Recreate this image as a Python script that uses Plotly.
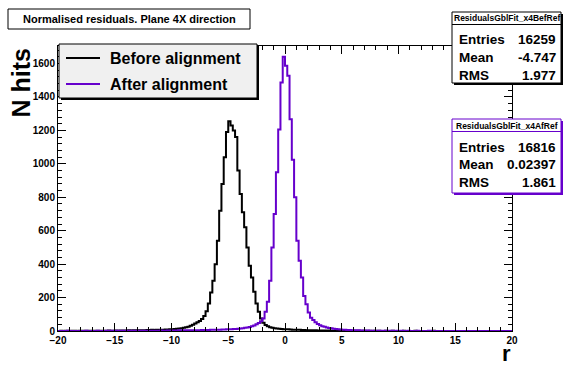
import plotly.graph_objects as go

# ---------------- data ----------------
x_min, x_max, n_bins = -20.0, 20.0, 200
y_max = 1705

before_counts = [
    0, 1, 0, 1, 1, 0, 1, 1, 0, 1,            # -20 .. -18
    1, 1, 2, 1, 1, 2, 1, 2, 2, 1,            # -18 .. -16
    2, 2, 3, 2, 2, 3, 2, 3, 3, 3,            # -16 .. -14
    3, 4, 3, 4, 4, 5, 4, 5, 5, 6,            # -14 .. -12
    6, 7, 6, 7, 8, 7, 8, 9, 9, 10,           # -12 .. -10
    11, 12, 13, 15, 17, 19, 22, 26, 31, 38,  # -10 .. -8
    45, 52, 60, 72, 90, 118, 165, 230, 300, 400,          # -8 .. -6
    540, 720, 880, 1040, 1190, 1255, 1230, 1200, 1160, 960,  # -6 .. -4
    820, 710, 620, 500, 390, 320, 235, 165, 115, 75,      # -4 .. -2
    50, 36, 28, 23, 20, 17, 15, 13, 12, 11,  # -2 .. 0
    10, 10, 9, 8, 8, 7, 7, 6, 6, 5,          # 0 .. 2
    5, 4, 4, 4, 3, 3, 3, 3, 2, 3,            # 2 .. 4
    2, 2, 2, 2, 1, 2, 1, 1, 2, 1,            # 4 .. 6
    1, 1, 1, 0, 1, 1, 0, 1, 0, 1,            # 6 .. 8
    0, 1, 0, 0, 1, 0, 0, 1, 0, 0,            # 8 .. 10
    0, 0, 1, 0, 0, 0, 0, 1, 0, 0,            # 10 .. 12
    0, 0, 0, 0, 0, 1, 0, 0, 0, 0,            # 12 .. 14
    0, 0, 0, 0, 0, 0, 0, 0, 0, 0,            # 14 .. 16
    0, 0, 0, 0, 0, 0, 0, 0, 0, 0,            # 16 .. 18
    0, 0, 0, 0, 0, 0, 0, 0, 0, 0,            # 18 .. 20
]

after_counts = [
    0, 0, 0, 0, 1, 0, 0, 0, 0, 0,            # -20 .. -18
    0, 0, 1, 0, 0, 0, 0, 1, 0, 0,            # -18 .. -16
    0, 1, 0, 1, 0, 1, 1, 0, 1, 1,            # -16 .. -14
    1, 1, 1, 1, 2, 1, 1, 2, 1, 2,            # -14 .. -12
    2, 1, 2, 2, 2, 3, 2, 2, 3, 3,            # -12 .. -10
    3, 3, 3, 4, 3, 4, 4, 4, 5, 4,            # -10 .. -8
    5, 5, 5, 6, 5, 6, 6, 7, 7, 8,            # -8 .. -6
    8, 8, 9, 9, 10, 10, 11, 12, 12, 14,      # -6 .. -4
    15, 17, 19, 21, 24, 28, 33, 40, 48, 58,  # -4 .. -2
    75, 115, 175, 300, 500, 700, 950, 1206, 1487, 1640,   # -2 .. 0
    1587, 1527, 1267, 1025, 800, 540, 420, 320, 210, 160, # 0 .. 2
    110, 80, 66, 52, 42, 35, 29, 25, 21, 18,  # 2 .. 4
    16, 14, 12, 11, 9, 8, 7, 6, 6, 5,        # 4 .. 6
    5, 4, 4, 3, 3, 3, 3, 2, 2, 2,            # 6 .. 8
    2, 2, 1, 2, 1, 1, 1, 1, 0, 1,            # 8 .. 10
    0, 1, 0, 0, 1, 0, 0, 0, 1, 0,            # 10 .. 12
    0, 0, 0, 1, 0, 0, 0, 0, 0, 0,            # 12 .. 14
    0, 0, 0, 0, 0, 0, 0, 0, 0, 0,            # 14 .. 16
    0, 0, 0, 0, 0, 0, 0, 0, 0, 0,            # 16 .. 18
    0, 0, 0, 0, 0, 0, 0, 0, 0, 0,            # 18 .. 20
]

series_names = ["Before alignment", "After alignment"]
hist_names = ["ResidualsGblFit_x4BefRef", "ResidualsGblFit_x4AfRef"]
stat_labels = ["Entries", "Mean", "RMS"]
before_stats = ["16259", "-4.747", "1.977"]
after_stats = ["16816", "0.02397", "1.861"]
title_text = "Normalised residuals. Plane 4X direction"
x_title = "r"
y_title = "N hits"

# ---------------- styling ----------------
W, H = 565, 366
L, R, T, B = 58, 512, 46, 331   # plot frame in pixels
FONT = "Liberation Sans"
BLACK = "#000000"
PURPLE = "#6600cc"

def px(xp):
    return (xp - L) / (R - L)

def py(yp):
    return (B - yp) / (B - T)

bw = (x_max - x_min) / n_bins
edges = [x_min + i * bw for i in range(n_bins + 1)]

fig = go.Figure()
for counts, col, nm in [(before_counts, BLACK, series_names[0]),
                        (after_counts, PURPLE, series_names[1])]:
    fig.add_trace(go.Scatter(
        x=edges, y=list(counts) + [counts[-1]],
        mode="lines", line=dict(color=col, width=2, shape="hv"),
        name=nm, showlegend=False, hoverinfo="skip"))

axis_common = dict(
    showline=True, linecolor=BLACK, linewidth=1, mirror="allticks",
    ticks="inside", ticklen=8, tickcolor=BLACK, tickwidth=1,
    showgrid=False, zeroline=False,
    tickprefix="<b>", ticksuffix="</b>",
    tickfont=dict(family=FONT, size=10, color=BLACK),
)

fig.update_layout(
    width=W, height=H,
    margin=dict(l=L, r=W - R, t=T, b=H - B),
    paper_bgcolor="white", plot_bgcolor="white",
    xaxis=dict(range=[x_min, x_max], dtick=5, tick0=0, automargin=False,
               minor=dict(dtick=1, ticklen=4, ticks="inside", tickcolor=BLACK),
               **axis_common),
    yaxis=dict(range=[0, y_max], dtick=200, tick0=0, automargin=False,
               minor=dict(dtick=40, ticklen=4, ticks="inside", tickcolor=BLACK),
               **axis_common),
)

shapes = []
annotations = []

def box(x0, y0, x1, y1, line_col, fill, shadow=True):
    if shadow:
        shapes.append(dict(type="rect", xref="paper", yref="paper",
                           x0=px(x0 + 2), x1=px(x1 + 2), y0=py(y0 + 2), y1=py(y1 + 2),
                           line=dict(width=0), fillcolor=line_col, layer="above"))
    shapes.append(dict(type="rect", xref="paper", yref="paper",
                       x0=px(x0), x1=px(x1), y0=py(y0), y1=py(y1),
                       line=dict(color=line_col, width=1), fillcolor=fill, layer="above"))

def text(x, y, s, size, xanchor="left", yanchor="middle", angle=0):
    annotations.append(dict(xref="paper", yref="paper", x=px(x), y=py(y), text=s,
                            showarrow=False, xanchor=xanchor, yanchor=yanchor,
                            textangle=angle,
                            font=dict(family=FONT, size=size, color=BLACK, weight="bold")))

# title box
box(8, 9, 250, 29, BLACK, "white", shadow=False)
text(129, 19, title_text, 11, xanchor="center")

# legend
box(59, 44, 257, 98, BLACK, "#f0f0f0")
for i, (nm, col) in enumerate([(series_names[0], BLACK), (series_names[1], PURPLE)]):
    yy = 58 + i * 26
    shapes.append(dict(type="line", xref="paper", yref="paper",
                       x0=px(66), x1=px(100), y0=py(yy), y1=py(yy),
                       line=dict(color=col, width=2), layer="above"))
    text(108, yy, nm, 16)

# stats boxes
for k, (hn, vals, col, top, hgt) in enumerate([
        (hist_names[0], before_stats, BLACK, 12, 71),
        (hist_names[1], after_stats, PURPLE, 119, 74)]):
    box(452, top, 561, top + hgt, col, "white")
    shapes.append(dict(type="line", xref="paper", yref="paper",
                       x0=px(452), x1=px(561), y0=py(top + 12.5), y1=py(top + 12.5),
                       line=dict(color=col, width=1), layer="above"))
    text(506.5, top + 6.5, hn, 8.5, xanchor="center")
    for j, (lab, v) in enumerate(zip(stat_labels, vals)):
        yy = top + 28 + j * 17.7
        text(457, yy, lab, 13.5)
        text(558, yy, v, 13.5, xanchor="right")

# axis titles
text(20, 47, y_title, 25, xanchor="center", yanchor="top", angle=-90)
text(513, 353, x_title, 22, xanchor="right")

fig.update_layout(shapes=shapes, annotations=annotations)
fig.write_html("out.html",
               config={"displayModeBar": False},
               post_script="document.body.style.margin='0';document.body.style.padding='0';")
